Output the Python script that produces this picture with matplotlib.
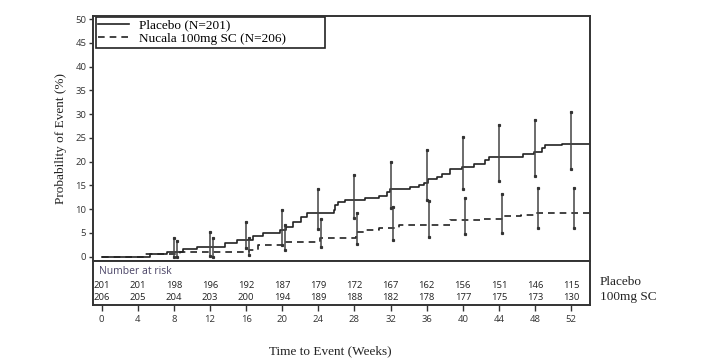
import matplotlib
matplotlib.use("Agg")
import matplotlib.pyplot as plt
from matplotlib.patches import Rectangle

# step curves (weeks, cumulative probability %)
placebo_t = [0, 5.3, 7.2, 9.0, 10.6, 13.7, 15.0, 16.8, 17.9, 19.7, 20.4, 21.2, 22.1, 22.7,
             25.7, 25.9, 26.2, 27.0, 29.2, 30.7, 31.6, 31.9, 34.2, 35.1, 35.7, 36.2, 37.1,
             37.7, 38.6, 39.9, 41.2, 42.5, 42.9, 46.7, 47.9, 48.8, 49.1, 51.0, 54.1]
placebo_p = [0, 0.5, 1.0, 1.6, 2.1, 2.9, 3.6, 4.3, 5.0, 5.7, 6.3, 7.4, 8.4, 9.1,
             9.8, 10.9, 11.6, 11.9, 12.3, 12.8, 13.7, 14.2, 14.6, 15.1, 15.6, 16.3, 16.8,
             17.5, 18.4, 18.9, 19.5, 20.3, 20.9, 21.7, 22.1, 22.9, 23.4, 23.8, 23.8]

nucala_t = [0, 4.8, 8.7, 16.3, 17.3, 20.1, 23.1, 24.2, 28.2, 29.3, 30.7, 32.9, 38.6,
            42.0, 44.5, 46.5, 48.0, 54.1]
nucala_p = [0, 0.5, 1.0, 1.5, 2.5, 3.0, 3.2, 4.0, 5.1, 5.6, 6.0, 6.7, 7.7,
            8.0, 8.5, 8.8, 9.1, 9.1]

# confidence intervals at each 4-week visit
ci_weeks = [8, 12, 16, 20, 24, 28, 32, 36, 40, 44, 48, 52]
placebo_lo = [0.0, 0.15, 1.8, 2.5, 5.8, 8.1, 10.2, 11.9, 14.2, 16.0, 17.0, 18.4]
placebo_hi = [3.9, 5.3, 7.2, 9.8, 14.2, 17.2, 20.0, 22.4, 25.2, 27.7, 28.8, 30.5]
nucala_lo = [0.0, 0.0, 0.35, 1.4, 2.0, 2.7, 3.5, 4.2, 4.7, 5.0, 6.0, 6.0]
nucala_hi = [3.4, 3.9, 3.9, 6.7, 7.9, 9.1, 10.5, 11.8, 12.3, 13.1, 14.4, 14.4]

# number at risk
risk_weeks = [0, 4, 8, 12, 16, 20, 24, 28, 32, 36, 40, 44, 48, 52]
placebo_risk = [201, 201, 198, 196, 192, 187, 179, 172, 167, 162, 156, 151, 146, 115]
nucala_risk = [206, 205, 204, 203, 200, 194, 189, 188, 182, 178, 177, 175, 173, 130]

serif = "Liberation Serif"
sans = "Open Sans"
dark = "#222222"
spine_c = "#333333"

fig = plt.figure(figsize=(7.01, 3.61), dpi=100)
ax = fig.add_axes([0.1331, 0.2778, 0.7086, 0.6787])
rk = fig.add_axes([0.1331, 0.1551, 0.7086, 0.1227])

xlim = (-0.93, 54.1)

ax.step(placebo_t, placebo_p, where="post", color=dark, lw=1.2, label="Placebo (N=201)")
ax.step(nucala_t, nucala_p, where="post", color=dark, lw=1.2, linestyle=(0, (4, 3)),
        label="Nucala 100mg SC (N=206)")

for w, lo, hi in zip(ci_weeks, placebo_lo, placebo_hi):
    ax.plot([w, w], [lo, hi], color="#444444", lw=1.1)
    ax.plot([w, w], [lo, hi], ls="none", marker="s", ms=1.3, color="#333333")
for w, lo, hi in zip(ci_weeks, nucala_lo, nucala_hi):
    ax.plot([w + 0.3, w + 0.3], [lo, hi], color="#444444", lw=1.1)
    ax.plot([w + 0.3, w + 0.3], [lo, hi], ls="none", marker="s", ms=1.3, color="#333333")

ax.set_xlim(*xlim)
ax.set_ylim(-0.84, 50.7)
ax.set_yticks(range(0, 51, 5))
ax.tick_params(axis="y", labelsize=6.8, length=3, width=1, colors=spine_c, pad=2)
for lab in ax.get_yticklabels():
    lab.set_fontfamily(sans)
ax.set_xticks([])
for s in ax.spines.values():
    s.set_color(spine_c)
    s.set_linewidth(1.4)
ax.set_ylabel("Probability of Event (%)", fontfamily=serif, fontsize=9.5, color=dark, labelpad=6)

leg = ax.legend(loc="upper left", bbox_to_anchor=(0.006, 0.99), prop={"family": serif, "size": 9.5},
                frameon=False, borderpad=0.0, labelspacing=0.05,
                handlelength=2.4, handletextpad=0.75, borderaxespad=0.1)
ax.add_patch(Rectangle((0.0054, 0.869), 0.461, 0.1245, transform=ax.transAxes,
                       fill=False, edgecolor=dark, lw=1.2))

# risk table
rk.set_xlim(*xlim)
rk.set_ylim(0, 1)
rk.set_yticks([])
rk.set_xticks(risk_weeks)
rk.tick_params(axis="x", labelsize=6.8, length=4, width=1, colors=spine_c, pad=3)
for lab in rk.get_xticklabels():
    lab.set_fontfamily(sans)
for s in rk.spines.values():
    s.set_color(spine_c)
    s.set_linewidth(1.4)
rk.text(-0.3, 0.75, "Number at risk", fontfamily=sans, fontsize=7.5, color="#4a4466",
        va="center", ha="left")
for w, a, b in zip(risk_weeks, placebo_risk, nucala_risk):
    rk.text(w, 0.436, str(a), fontfamily=sans, fontsize=6.8, color=dark, ha="center", va="center")
    rk.text(w, 0.174, str(b), fontfamily=sans, fontsize=6.8, color=dark, ha="center", va="center")
rk.text(1.02, 0.53, "Placebo", transform=rk.transAxes, fontfamily=serif, fontsize=9.5,
        color=dark, va="center", ha="left")
rk.text(1.02, 0.19, "100mg SC", transform=rk.transAxes, fontfamily=serif, fontsize=9.5,
        color=dark, va="center", ha="left")

fig.text(0.471, 0.028, "Time to Event (Weeks)", fontfamily=serif, fontsize=9.5, color=dark,
         ha="center", va="center")

fig.savefig("out.png", dpi=100)
